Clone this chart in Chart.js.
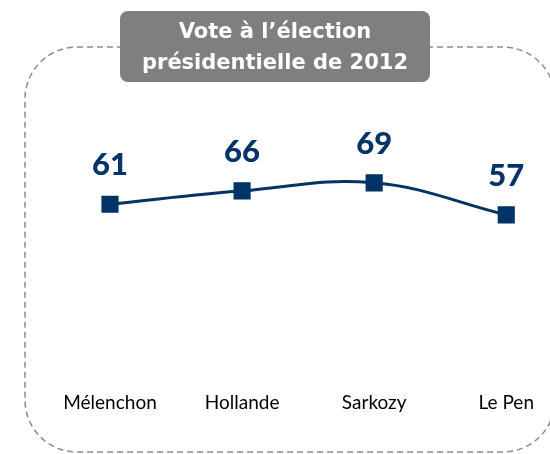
<!DOCTYPE html>
<html>
<head>
<meta charset="utf-8">
<script src="https://cdn.jsdelivr.net/npm/chart.js@4/dist/chart.umd.min.js"></script>
<style>
  html, body { margin: 0; padding: 0; background: #fff; }
  #wrap { width: 550px; height: 454px; }
</style>
</head>
<body>
<div id="wrap"><canvas id="voteChart"></canvas></div>
<script>
// Candidats et valeurs
const candidats = ["Mélenchon", "Hollande", "Sarkozy", "Le Pen"];
const valeurs = [61, 66, 69, 57];
const titreLignes = ["Vote à l’élection", "présidentielle de 2012"];

const bleu = "#003366";

// Cadre pointillé + encadré du titre
const cadrePlugin = {
    id: "cadre",
    beforeDraw(chart) {
        const c = chart.ctx;
        c.save();
        // cadre arrondi en pointillés
        c.strokeStyle = "#8c8c8c";
        c.lineWidth = 1.5;
        c.setLineDash([6, 4]);
        c.beginPath();
        c.roundRect(25, 47, 530, 405, 52);
        c.stroke();
        c.setLineDash([]);
        // encadré gris du titre
        c.fillStyle = "#7f7f7f";
        c.beginPath();
        c.roundRect(120, 11, 310, 71, 8);
        c.fill();
        c.fillStyle = "#ffffff";
        c.font = "bold 21px 'DejaVu Sans'";
        c.textAlign = "center";
        c.textBaseline = "middle";
        c.fillText(titreLignes[0], 275, 33);
        c.fillText(titreLignes[1], 275, 64);
        c.restore();
    },
    afterDatasetsDraw(chart) {
        // valeurs au-dessus des points
        const c = chart.ctx;
        const meta = chart.getDatasetMeta(0);
        c.save();
        c.fillStyle = bleu;
        c.font = "900 31px Lato";
        c.textAlign = "center";
        c.textBaseline = "middle";
        meta.data.forEach((pt, i) => {
            c.fillText(valeurs[i], pt.x, pt.y - 39);
        });
        c.restore();
    }
};

const ctx = document.getElementById("voteChart").getContext("2d");
new Chart(ctx, {
    type: "line",
    data: {
        labels: candidats,
        datasets: [{
            data: valeurs,
            borderColor: bleu,
            backgroundColor: bleu,
            borderWidth: 3,
            tension: 0.4,
            pointStyle: "rect",
            pointRadius: 10,
            pointHoverRadius: 10,
            clip: false
        }]
    },
    options: {
        responsive: true,
        maintainAspectRatio: false,
        animation: false,
        layout: { padding: { left: 110, right: 39, top: 100, bottom: 24 } },
        plugins: { legend: { display: false }, tooltip: { enabled: false } },
        scales: {
            x: {
                offset: false,
                grid: { display: false },
                border: { display: false },
                ticks: {
                    color: "#000",
                    font: { family: "Lato", size: 19 },
                    padding: 16,
                    maxRotation: 0
                }
            },
            y: {
                display: false,
                min: 0,
                max: 100
            }
        }
    },
    plugins: [cadrePlugin]
});
</script>
</body>
</html>
